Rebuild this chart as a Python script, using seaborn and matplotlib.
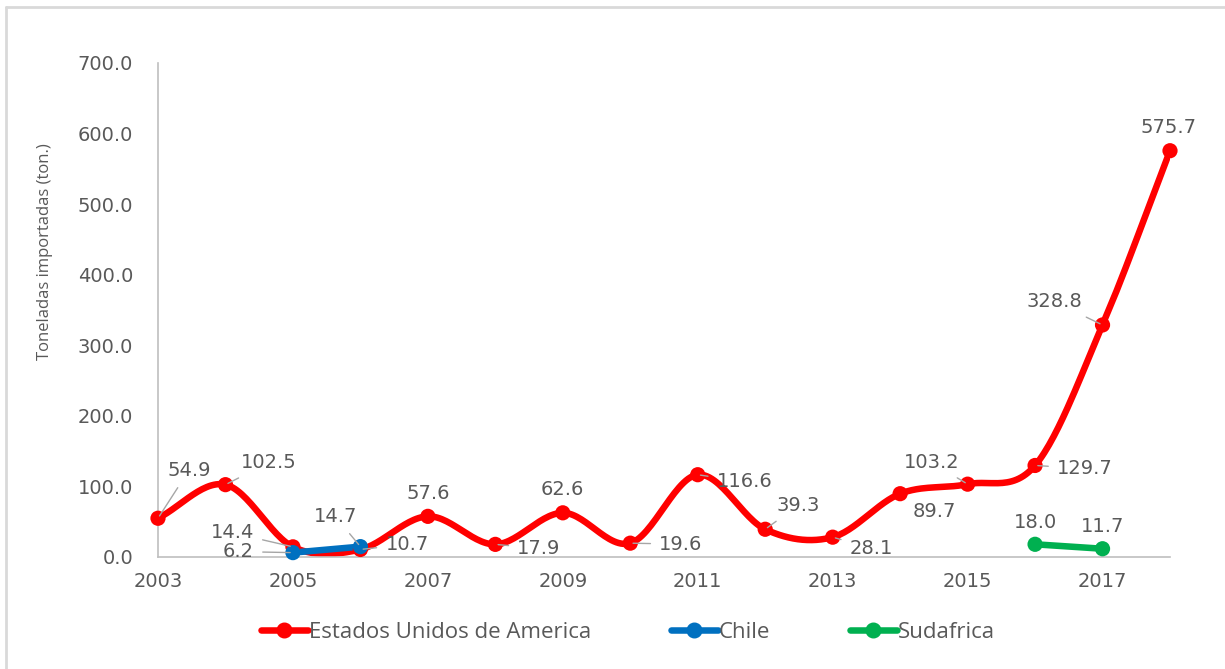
import numpy as np
import pandas as pd
import matplotlib
matplotlib.use("Agg")
import matplotlib.pyplot as plt
from matplotlib.lines import Line2D
import seaborn as sns

years_usa = list(range(2003, 2019))
usa = [54.9, 102.5, 14.4, 10.7, 57.6, 17.9, 62.6, 19.6, 116.6, 39.3, 28.1, 89.7, 103.2, 129.7, 328.8, 575.7]
years_chile = [2005, 2006]
chile = [6.2, 14.7]
years_sudafrica = [2016, 2017]
sudafrica = [18.0, 11.7]
series_names = ["Estados Unidos de America", "Chile", "Sudafrica"]
tick_years = list(range(2003, 2018, 2))
y_ticks = list(range(0, 701, 100))

colors = {"Estados Unidos de America": "#FF0000", "Chile": "#0070C0", "Sudafrica": "#00B050"}
text_col = "#595959"
lead_col = "#A6A6A6"

df = pd.concat([
    pd.DataFrame({"Año": years_usa, "Ton": usa, "Pais": series_names[0]}),
    pd.DataFrame({"Año": years_chile, "Ton": chile, "Pais": series_names[1]}),
    pd.DataFrame({"Año": years_sudafrica, "Ton": sudafrica, "Pais": series_names[2]}),
])


def smooth(x, y, n=30):
    # catmull-rom style smoothing like excel's smoothed line
    x = np.asarray(x, float)
    y = np.asarray(y, float)
    if len(x) < 3:
        return x, y
    px = np.concatenate([[2 * x[0] - x[1]], x, [2 * x[-1] - x[-2]]])
    py = np.concatenate([[2 * y[0] - y[1]], y, [2 * y[-1] - y[-2]]])
    xs, ys = [], []
    t = np.linspace(0, 1, n)
    for i in range(1, len(px) - 2):
        p0, p1, p2, p3 = [np.array([px[j], py[j]]) for j in (i - 1, i, i + 1, i + 2)]
        c1 = p1 + (p2 - p0) / 6
        c2 = p2 - (p3 - p1) / 6
        pts = ((1 - t) ** 3)[:, None] * p1 + (3 * (1 - t) ** 2 * t)[:, None] * c1 \
            + (3 * (1 - t) * t ** 2)[:, None] * c2 + (t ** 3)[:, None] * p2
        xs.extend(pts[:, 0])
        ys.extend(pts[:, 1])
    return np.array(xs), np.array(ys)


sns.set_style("white")
plt.rcParams['font.family'] = ['DejaVu Sans']
narrow = ['Liberation Sans Narrow', 'Open Sans', 'DejaVu Sans']

fig = plt.figure(figsize=(12.25, 6.69), dpi=100)
ax = fig.add_axes([158 / 1225, 1 - 557 / 669, (1170 - 158) / 1225, (557 - 63) / 669])

for name in series_names:
    sub = df[df["Pais"] == name]
    sx, sy = smooth(sub["Año"], sub["Ton"])
    ax.plot(sx, sy, color=colors[name], lw=4.7, solid_capstyle='round', zorder=2)

sns.scatterplot(data=df, x="Año", y="Ton", hue="Pais", palette=colors, s=120,
                edgecolor='none', legend=False, ax=ax, zorder=3, clip_on=False)

# data labels: (x, y, text, dx, dy, ha, leader) offsets in pixels, dy up
labels = [
    (2003, 54.9, "54.9", 31, 48, 'center', True),
    (2004, 102.5, "102.5", 43, 22, 'center', True),
    (2005, 14.4, "14.4", -39, 14, 'right', True),
    (2005, 6.2, "6.2", -39, 1, 'right', True),
    (2006, 14.7, "14.7", -25, 30, 'center', True),
    (2006, 10.7, "10.7", 25, 5, 'left', True),
    (2007, 57.6, "57.6", 0, 23, 'center', False),
    (2008, 17.9, "17.9", 22, -4, 'left', True),
    (2009, 62.6, "62.6", 0, 23, 'center', False),
    (2010, 19.6, "19.6", 29, -1, 'left', True),
    (2011, 116.6, "116.6", 19, -7, 'left', True),
    (2012, 39.3, "39.3", 33, 24, 'center', True),
    (2013, 28.1, "28.1", 17, -11, 'left', True),
    (2014, 89.7, "89.7", 34, -18, 'center', False),
    (2015, 103.2, "103.2", -36, 22, 'center', True),
    (2016, 129.7, "129.7", 22, -3, 'left', True),
    (2017, 328.8, "328.8", -20, 23, 'right', True),
    (2018, 575.7, "575.7", -2, 23, 'center', False),
    (2016, 18.0, "18.0", 0, 22, 'center', False),
    (2017, 11.7, "11.7", 0, 22, 'center', False),
]
for x, y, txt, dx, dy, ha, lead in labels:
    ax.annotate(txt, xy=(x, y), xytext=(dx, dy), textcoords='offset pixels',
                ha=ha, va='center', fontsize=14, color=text_col, zorder=4,
                annotation_clip=False,
                arrowprops=dict(arrowstyle='-', color=lead_col, lw=1, shrinkA=4, shrinkB=2) if lead else None)

ax.set_xlim(2003, 2018)
ax.set_ylim(0, 700)
ax.set_xticks(tick_years)
ax.set_xticklabels([str(t) for t in tick_years])
ax.set_yticks(y_ticks)
ax.set_yticklabels([f"{v:.1f}" for v in y_ticks])
ax.tick_params(axis='both', length=0, labelsize=14, colors=text_col)
ax.tick_params(axis='y', pad=18)
ax.tick_params(axis='x', pad=11)
ax.set_xlabel("")
ax.set_ylabel("")
for s in ['top', 'right']:
    ax.spines[s].set_visible(False)
for s in ['left', 'bottom']:
    ax.spines[s].set_color('#BFBFBF')
    ax.spines[s].set_linewidth(1.2)

fig.text(45 / 1225, 1 - 252 / 669, "Toneladas importadas (ton.)", rotation=90,
         ha='center', va='center', fontsize=12, color=text_col, family=narrow)

handles = [Line2D([0], [0], color=colors[n], lw=4.7, marker='o', markersize=10.5) for n in series_names]
fig.legend(handles, series_names, loc='center', bbox_to_anchor=(628 / 1225, 1 - 632 / 669), ncol=3,
           frameon=False, handlelength=2.1, handletextpad=0.05, columnspacing=3.6,
           prop={'family': narrow, 'size': 16}, labelcolor=text_col)

# chart border (top and left visible)
fig.add_artist(Line2D([6 / 1225, 6 / 1225], [0, 1 - 7 / 669], color='#D9D9D9', lw=2, transform=fig.transFigure))
fig.add_artist(Line2D([6 / 1225, 1], [1 - 7 / 669, 1 - 7 / 669], color='#D9D9D9', lw=2, transform=fig.transFigure))

fig.savefig("out.png", dpi=100)
